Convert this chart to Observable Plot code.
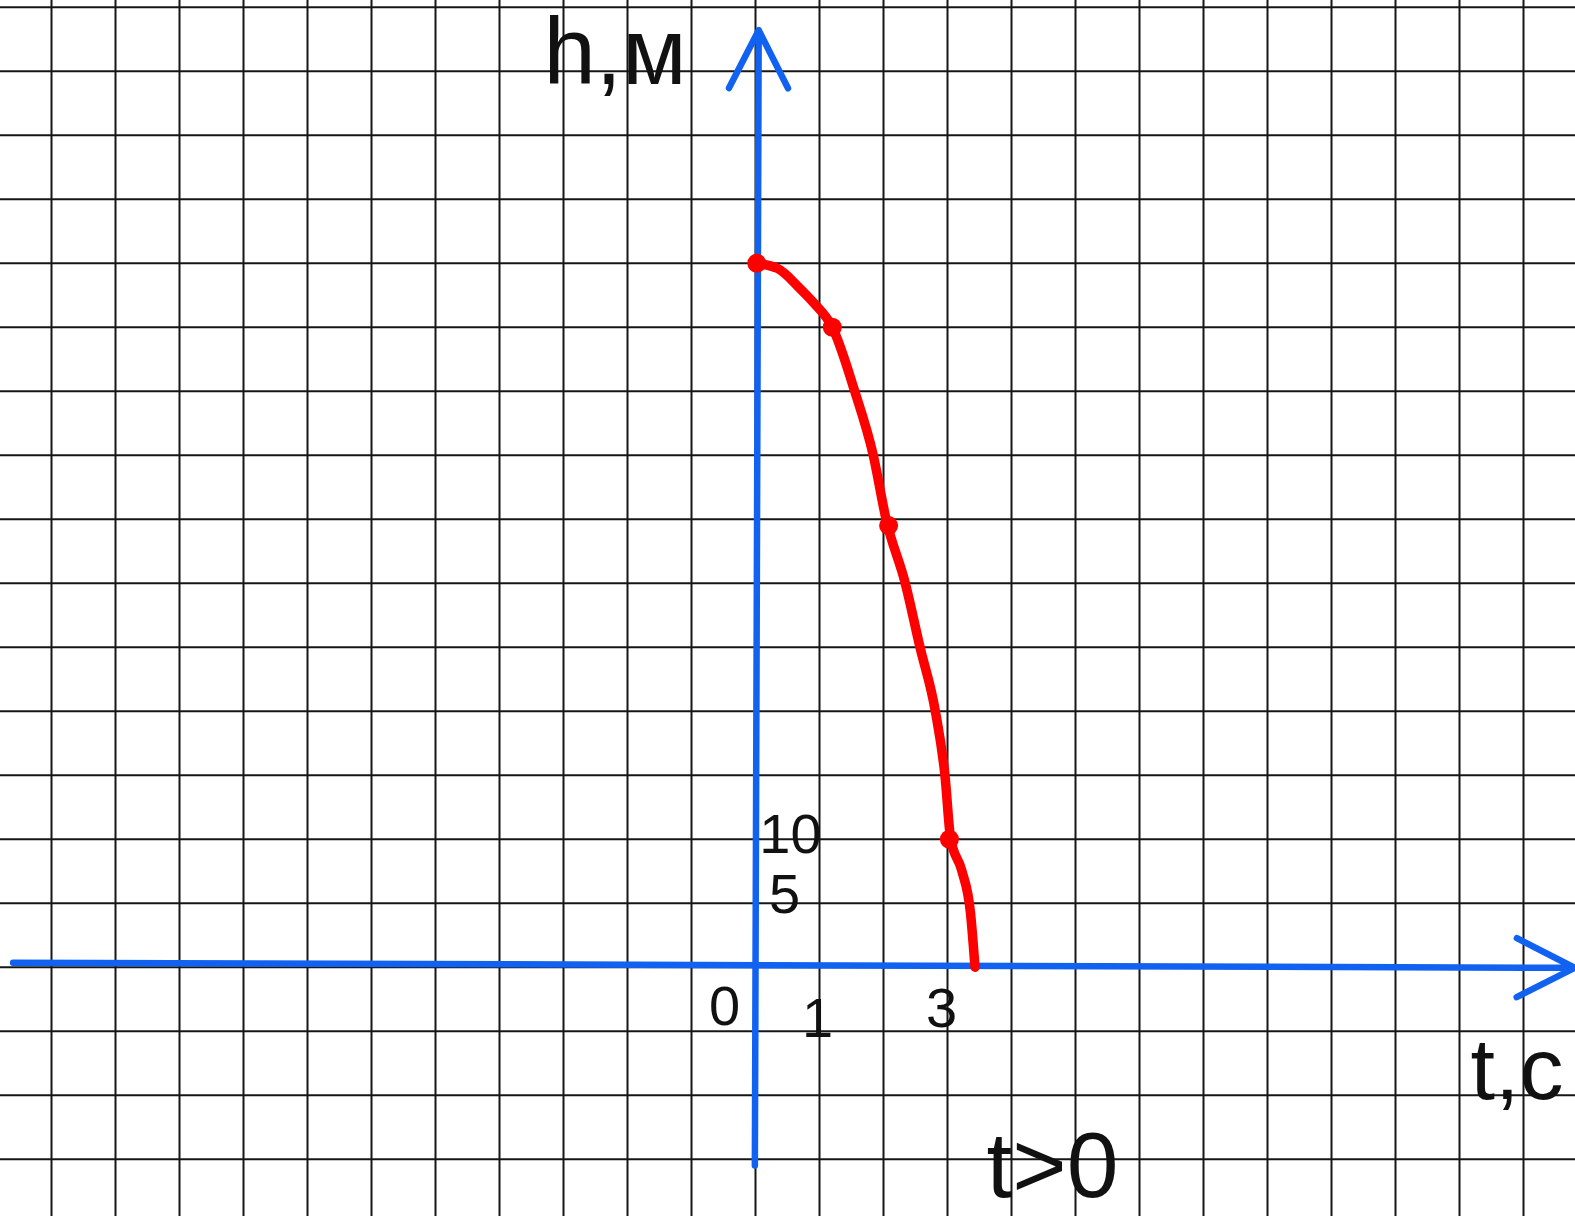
<!DOCTYPE html>
<html>
<head>
<meta charset="utf-8">
<script src="https://cdn.jsdelivr.net/npm/d3@7"></script>
<script src="https://cdn.jsdelivr.net/npm/@observablehq/plot@0.6"></script>
<style>
  html, body { margin: 0; padding: 0; background: #fff; }
  #chart svg { display: block; }
</style>
</head>
<body>
<div id="chart"></div>
<script>
// ---- data (t in seconds, h in metres) ----
const curveT = [0, 0.34, 0.70, 0.91, 1.2, 1.55, 1.84, 2.04, 2.34, 2.57, 2.81, 2.96, 3.05, 3.22, 3.36, 3.43];
const curveH = [55, 54.6, 53.0, 51.9, 50, 45, 40, 35, 30, 25, 20, 15, 10, 7.6, 4.2, 0];
const markT = [0.02, 1.2, 2.08, 3.03];
const markH = [55, 50, 34.5, 10];

// tick labels
const xTickLabels = ["0", "1", "3"];
const xTickValues = [0, 1, 3];
const yTickLabels = ["5", "10"];
const yTickValues = [5, 10];

// axis extents (data units)
const xAxisT = [-11.6, 12.8];
const xAxisH = [0.35, -0.05];
const yAxisT = [-0.01, 0.05];
const yAxisH = [-15.5, 73.2];

const axisTitleY = "h,м";
const axisTitleX = "t,c";
const note = "t>0";

// ---- build ----
const curve = curveT.map((t, i) => ({t, h: curveH[i]}));
const marks = markT.map((t, i) => ({t, h: markH[i]}));
const axes = [
  {x1: xAxisT[0], y1: xAxisH[0], x2: xAxisT[1], y2: xAxisH[1]},
  {x1: yAxisT[0], y1: yAxisH[0], x2: yAxisT[1], y2: yAxisH[1]}
];

const W = 1575, H = 1216, cell = 64, ox = 755, oy = 966.7;
const xDomain = [-ox / cell, (W - ox) / cell];
const yDomain = [-(H - oy) / cell * 5, oy / cell * 5];

const blue = "#1262f2";
const font = "'Liberation Sans', Arial, sans-serif";

const tickText = (label, value, axis, dx, dy) => Plot.text([label], {
  x: axis === "x" ? value : 0,
  y: axis === "x" ? 0 : value,
  text: d => d, dx, dy,
  fontSize: 56, fontFamily: font, fill: "#111",
  textAnchor: "middle", lineAnchor: "middle"
});

const chart = Plot.plot({
  width: W, height: H,
  margin: 0,
  style: {background: "#fff", fontFamily: font, overflow: "hidden"},
  x: {domain: xDomain, axis: null},
  y: {domain: yDomain, axis: null},
  marks: [
    Plot.gridX({interval: 1, stroke: "#161616", strokeOpacity: 1, strokeWidth: 2}),
    Plot.gridY({interval: 5, stroke: "#161616", strokeOpacity: 1, strokeWidth: 2}),
    Plot.arrow(axes, {
      x1: "x1", y1: "y1", x2: "x2", y2: "y2",
      stroke: blue, strokeWidth: 6.5,
      headLength: 15, headAngle: 54,
      strokeLinecap: "round", strokeLinejoin: "round"
    }),
    tickText(xTickLabels[0], xTickValues[0], "x", -31, 40),
    tickText(xTickLabels[1], xTickValues[1], "x", -2, 52),
    tickText(xTickLabels[2], xTickValues[2], "x", -6, 42),
    tickText(yTickLabels[0], yTickValues[0], "y", 29, -8),
    tickText(yTickLabels[1], yTickValues[1], "y", 35, -4),
    Plot.line(curve, {
      x: "t", y: "h", stroke: "#ff0000", strokeWidth: 9.5,
      curve: "monotone-x", strokeLinecap: "round", strokeLinejoin: "round"
    }),
    Plot.dot(marks, {x: "t", y: "h", r: 9.5, fill: "#ff0000", stroke: "none"}),
    Plot.text([axisTitleY], {
      frameAnchor: "top-left", dx: 543, dy: 53, text: d => d,
      fontSize: 94, fontFamily: font, fill: "#111",
      textAnchor: "start", lineAnchor: "middle"
    }),
    Plot.text([axisTitleX], {
      frameAnchor: "top-left", dx: 1470, dy: 1070, text: d => d,
      fontSize: 88, fontFamily: font, fill: "#111",
      textAnchor: "start", lineAnchor: "middle"
    }),
    Plot.text([note], {
      frameAnchor: "top-left", dx: 986, dy: 1167, text: d => d,
      fontSize: 93, fontFamily: font, fill: "#111",
      textAnchor: "start", lineAnchor: "middle"
    })
  ]
});
document.getElementById("chart").append(chart);
</script>
</body>
</html>
